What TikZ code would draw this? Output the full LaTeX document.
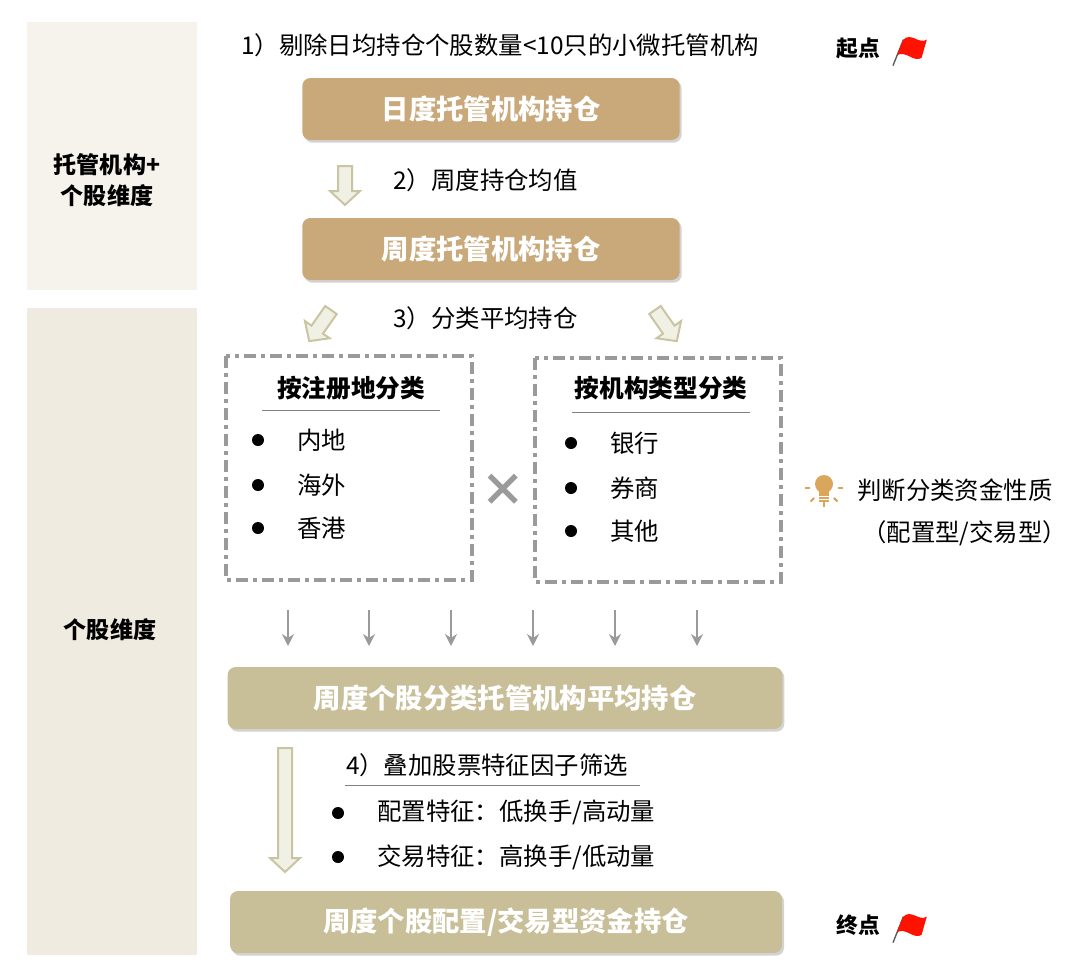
\documentclass[tikz,border=0pt]{standalone}
\usepackage{fontspec}
\setmainfont{Noto Sans CJK SC}
\usetikzlibrary{shadows,arrows.meta}
\definecolor{panA}{HTML}{F6F3EC}
\definecolor{panB}{HTML}{EFEBE1}
\definecolor{tanA}{HTML}{C9A97A}
\definecolor{tanB}{HTML}{C8BE98}
\definecolor{arrE}{HTML}{C9C5A2}
\definecolor{arrF}{HTML}{F1F0E4}
\definecolor{bulb}{HTML}{D9A65C}
\definecolor{grayd}{HTML}{9A9A9A}
\tikzset{
 x=0.75pt,y=-0.75pt,
 mainbox/.style={rounded corners=6pt,minimum height=46.5pt,text=white,font=\bfseries\fontsize{20.5}{22}\selectfont,drop shadow={shadow xshift=1.5pt,shadow yshift=-2pt,opacity=0.35}},
 dbox/.style={draw=grayd,line width=2.4pt,dash pattern=on 9pt off 4pt on 2.5pt off 4pt},
 lbl/.style={font=\fontsize{18.3}{20}\selectfont,inner sep=0pt},
 blbl/.style={font=\bfseries\fontsize{18.5}{22}\selectfont,inner sep=0pt,align=center},
 dot/.style={circle,fill=black,inner sep=0pt,minimum size=9pt},
 sarrow/.style={draw=grayd,line width=1.6pt,-{Stealth[length=9pt,width=9pt]}},
 barrow/.style={draw=arrE,fill=arrF,line width=1.5pt,line join=miter},
}
\newcommand{\blockarrow}[4]{% x,y(top center),angle,length
 \begin{scope}[shift={(#1,#2)},rotate=#3]
 \draw[barrow] (-7,0)--(7,0)--(7,#4-14)--(15,#4-14)--(0,#4)--(-15,#4-14)--(-7,#4-14)--cycle;
 \end{scope}}
\newcommand{\flag}[2]{%
 \begin{scope}[shift={(#1,#2)},scale=1.3]
 \draw[gray!70!black,line width=1pt] (0,12)--(8,-8);
 \fill[red!85!orange] (8,-8) .. controls (14,-14) and (20,-4) .. (26,-8) -- (22,6) .. controls (16,10) and (10,0) .. (3,4) -- cycle;
 \end{scope}}
\begin{document}
\begin{tikzpicture}
\useasboundingbox (0,0) rectangle (1080,979);
\fill[panA] (27,22) rectangle (197,290);
\fill[panB] (27,308) rectangle (197,955);
\node[blbl,font=\bfseries\fontsize{17.3}{23}\selectfont] (l1) at (107,180) {托管机构+\\个股维度};
\node[blbl,font=\bfseries\fontsize{17.3}{23}\selectfont] (l2) at (110,630) {个股维度};

\node[lbl] (t1) at (500,45) {1）剔除日均持仓个股数量<10只的小微托管机构};
\node[mainbox,fill=tanA,minimum width=283pt] (b1) at (491,109) {日度托管机构持仓};
\blockarrow{345}{166}{0}{39}
\node[lbl,anchor=west] (t2) at (393,180) {2）周度持仓均值};
\node[mainbox,fill=tanA,minimum width=283pt] (b2) at (491,249) {周度托管机构持仓};
\node[lbl,anchor=west] (t3) at (393,318) {3）分类平均持仓};
\blockarrow{331}{310}{-35}{38}
\blockarrow{655}{310}{35}{38}

\draw[dbox] (226,356) rectangle (472,580);
\draw[dbox] (535,358) rectangle (781,582);
\node[blbl] (h1) at (351,388) {按注册地分类};
\draw[gray,line width=0.6pt] (262,410)--(440,410);
\node[blbl] (h2) at (661,388) {按机构类型分类};
\draw[gray,line width=0.6pt] (572,412)--(750,412);
\foreach \t/\y in {内地/440,海外/485,香港/528}{
 \node[dot] at (258,\y) {};
 \node[lbl,anchor=west] at (297,\y) {\t};}
\foreach \t/\y in {银行/443,券商/488,其他/531}{
 \node[dot] at (571,\y) {};
 \node[lbl,anchor=west] at (610,\y) {\t};}
\node[font=\bfseries\fontsize{34}{34}\selectfont,text=grayd] (x) at (503,490) {×};

\begin{scope}[shift={(824,488)}]
 \fill[bulb] (0,-4) circle (9);
 \fill[bulb] (-5,3) rectangle (5,14);
 \foreach \a in {90,135,45,180,0}{\draw[bulb,line width=1.6pt] (\a:14)--(\a:19);}
 \draw[white,line width=0.7pt] (-5,8)--(5,8) (-5,11)--(5,11);
\end{scope}
\node[lbl,anchor=west] (j1) at (857,490) {判断分类资金性质};
\node[lbl,anchor=west] (j2) at (862,533) {（配置型/交易型）};

\node[mainbox,fill=tanB,minimum width=416pt] (b3) at (505,698) {周度个股分类托管机构平均持仓};
\foreach \x in {288,369,451,533,615,697}{
 \coordinate (s\x) at (\x,610); \coordinate (e\x) at (\x,646);
 \draw[sarrow] (s\x)--(e\x);}
\blockarrow{285}{748}{0}{124}
\node[lbl] (t4) at (487,765) {4）叠加股票特征因子筛选};
\draw[gray,line width=0.6pt] (345,785)--(640,785);
\node[dot] at (338,813) {};
\node[lbl,anchor=west] at (377,812) {配置特征：低换手/高动量};
\node[dot] at (338,857) {};
\node[lbl,anchor=west] at (377,857) {交易特征：高换手/低动量};
\node[mainbox,fill=tanB,minimum width=414pt] (b4) at (506,922) {周度个股配置/交易型资金持仓};

\node[blbl,font=\bfseries\fontsize{16.3}{18}\selectfont] (st) at (858,48) {起点};
\flag{893}{50}
\node[blbl,font=\bfseries\fontsize{16.3}{18}\selectfont] (en) at (858,925) {终点};
\flag{893}{927}
\end{tikzpicture}
\end{document}
